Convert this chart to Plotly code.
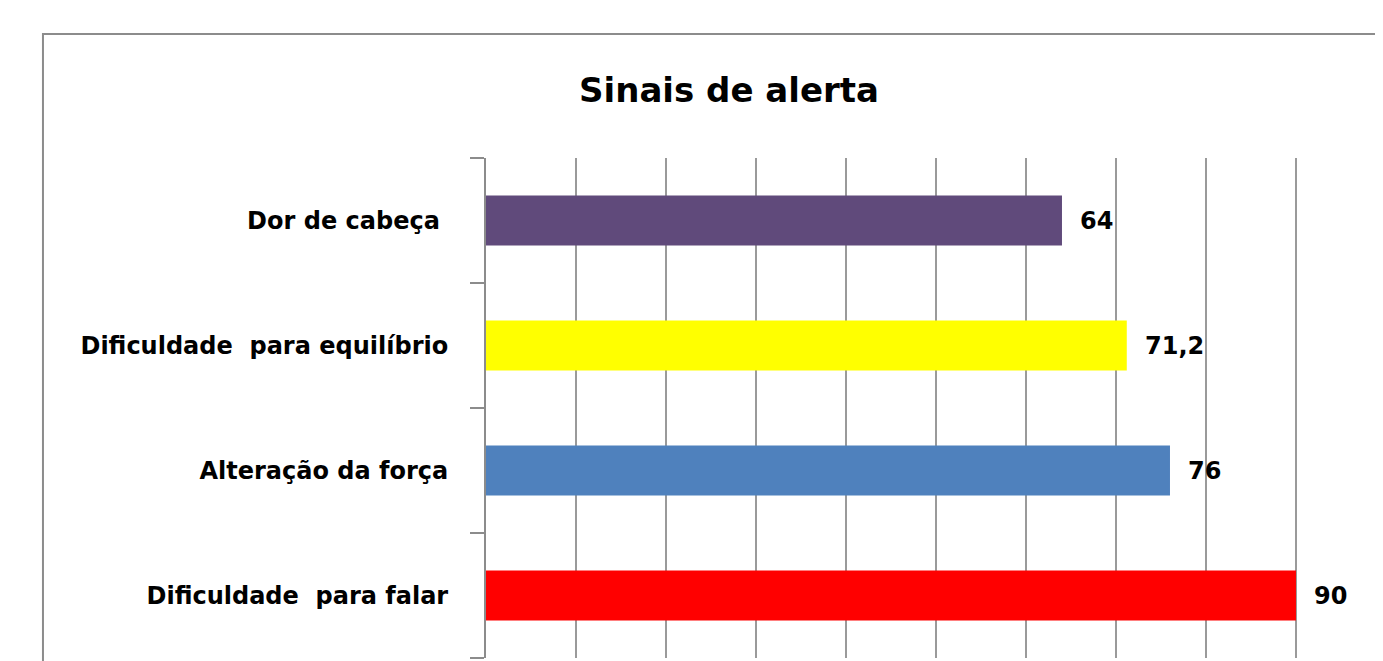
import plotly.graph_objects as go

# Data (bottom-to-top order as drawn)
categories = ["Dificuldade  para falar", "Alteração da força", "Dificuldade  para equilíbrio", "Dor de cabeça "]
values = [90, 76, 71.2, 64]
value_labels = ["90", "76", "71,2", "64"]
colors = ["#FF0000", "#4F81BD", "#FFFF00", "#604A7B"]
title_text = "Sinais de alerta"

FONT = "DejaVu Sans"
OFF = 8  # page body margin

W, H = 1383 - OFF, 661 - OFF

fig = go.Figure()
fig.add_trace(go.Bar(
    y=categories, x=values, orientation="h",
    marker=dict(color=colors, line=dict(width=0)),
    width=0.4, hoverinfo="skip",
))

for c, v, t in zip(categories, values, value_labels):
    fig.add_annotation(x=v, y=c, text=f"<b>{t}</b>", showarrow=False,
                       xanchor="left", yanchor="middle", xshift=16,
                       font=dict(family=FONT, size=24, color="#000000"))

# outer chart border
fig.add_shape(type="rect", xref="paper", yref="paper",
              x0=-0.4939, x1=1.2, y0=-0.3, y1=1.248,
              line=dict(color="#8c8c8c", width=2), fillcolor="rgba(0,0,0,0)", layer="below")

fig.update_layout(
    width=W, height=H,
    margin=dict(l=486 - OFF, r=0, t=158 - OFF, b=3, autoexpand=False),
    paper_bgcolor="white", plot_bgcolor="white",
    showlegend=False,
    title=dict(text=f"<b>{title_text}</b>", x=(729 - OFF) / W, xanchor="center",
               y=1 - (90 - OFF) / H, yanchor="middle", yref="container",
               font=dict(family=FONT, size=34, color="#000000")),
    xaxis=dict(range=[0, 99.67], dtick=10, showgrid=True, gridcolor="#9a9a9a", gridwidth=2,
               zeroline=False, showticklabels=False, ticks="", showline=False, fixedrange=True),
    yaxis=dict(type="category", showgrid=False, showline=True, linecolor="#8c8c8c", linewidth=2,
               ticks="outside", tickson="boundaries", ticklen=14, tickwidth=2, tickcolor="#8c8c8c",
               ticklabelstandoff=31,
               tickfont=dict(family=FONT, size=24, color="#000000"),
               categoryorder="array", categoryarray=categories),
)
fig.update_yaxes(ticktext=[f"<b>{c}</b>" for c in categories], tickvals=categories)

fig.write_html("out.html")
